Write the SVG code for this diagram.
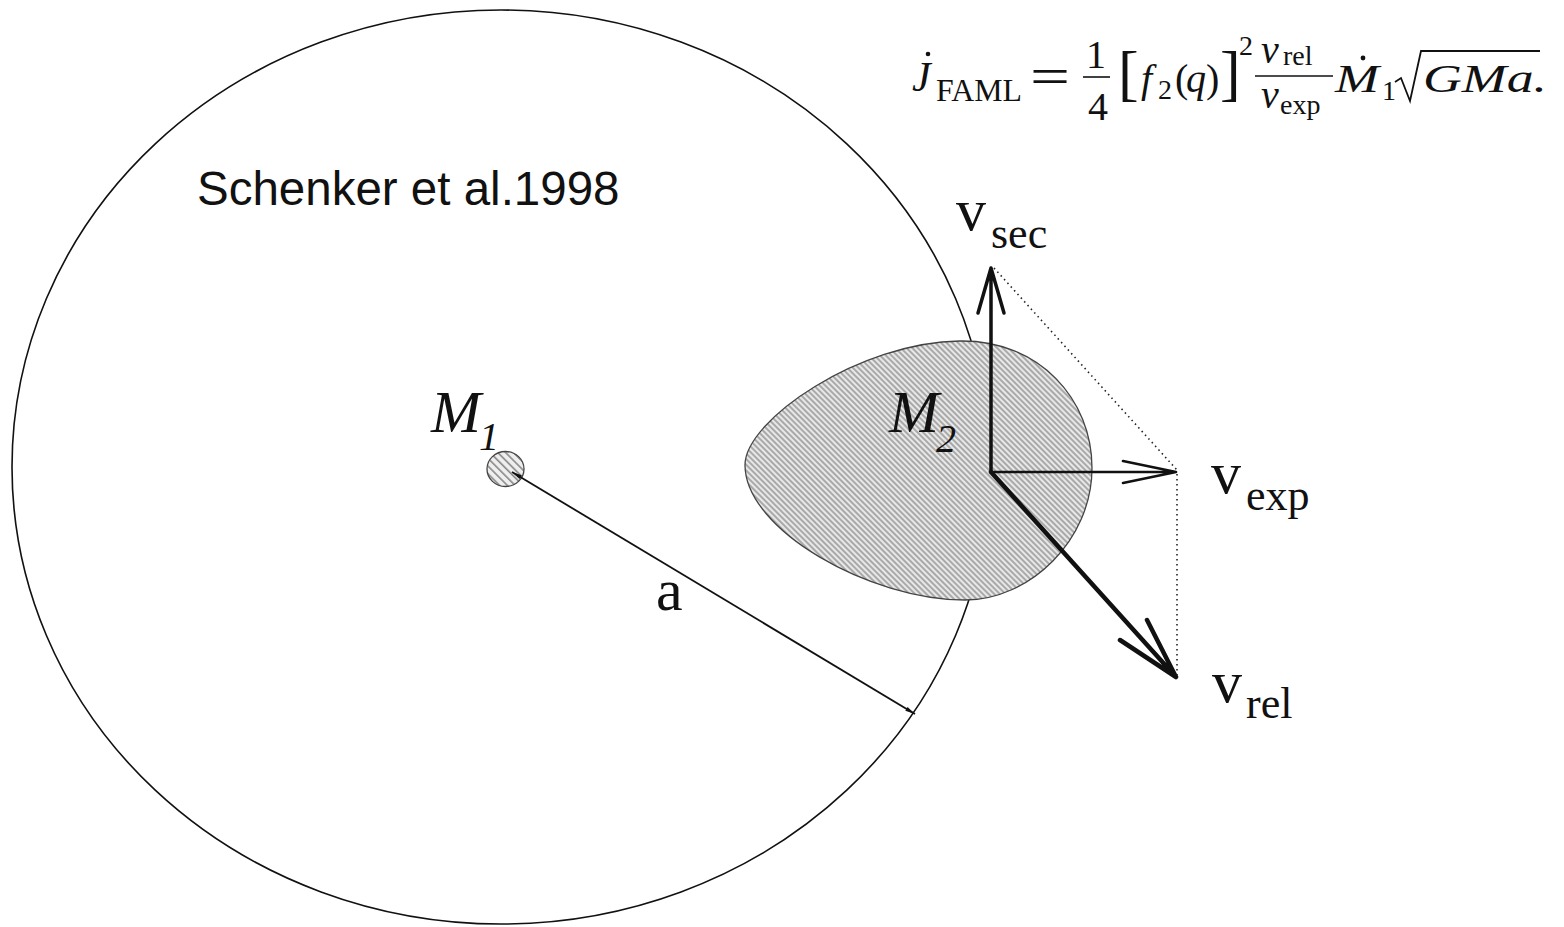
<svg xmlns="http://www.w3.org/2000/svg" width="1564" height="927" viewBox="0 0 1564 927">
<style>
.serif{font-family:"Liberation Serif","Times New Roman",serif;fill:#111}
.it{font-style:italic}
.sans{font-family:"Liberation Sans",Arial,sans-serif;fill:#111}
.vec{fill:none;stroke:#111;stroke-linecap:round;stroke-linejoin:round}
.dot{fill:none;stroke:#222;stroke-width:1.6;stroke-dasharray:1.5 3.5}
</style>
<defs>
<pattern id="hatch" width="4" height="4" patternUnits="userSpaceOnUse" patternTransform="rotate(45)">
<rect width="4" height="4" fill="#e8e8e8"/>
<line x1="0" y1="1" x2="4" y2="1" stroke="#707070" stroke-width="1.05"/>
</pattern>
<pattern id="hatch2" width="5.5" height="5.5" patternUnits="userSpaceOnUse" patternTransform="rotate(45)">
<rect width="5.5" height="5.5" fill="#eeeeee"/>
<line x1="0" y1="1" x2="5.5" y2="1" stroke="#666" stroke-width="1.2"/>
</pattern>
<marker id="ah" viewBox="0 0 10 6" refX="10" refY="3" markerWidth="10" markerHeight="6" markerUnits="userSpaceOnUse" orient="auto-start-reverse">
<path d="M0,0.8 L10,3 L0,5.2 Z" fill="#111"/>
</marker>
</defs>
<rect width="1564" height="927" fill="#fff"/>

<g id="orbit">
<ellipse cx="501" cy="467" rx="489" ry="457" fill="none" stroke="#111" stroke-width="1.6"/>
</g>

<g id="node-m2">
<path d="M745,465 C745,420 860,342 960,341 C1040,340 1092,400 1092,468 C1092,540 1030,600 965,600 C870,600 745,530 745,465 Z" fill="url(#hatch)" stroke="#444" stroke-width="1.3"/>
<text class="serif it" font-size="60"><tspan x="889" y="432">M</tspan><tspan x="936" y="452" font-size="40">2</tspan></text>
</g>

<g id="node-m1">
<ellipse cx="505.5" cy="469" rx="18.5" ry="17.5" fill="url(#hatch2)" stroke="#444" stroke-width="1.3"/>
<text class="serif it" font-size="60"><tspan x="431" y="432">M</tspan><tspan x="479" y="450" font-size="40">1</tspan></text>
</g>

<g id="connectors">
<line x1="512" y1="472" x2="915" y2="714" stroke="#111" stroke-width="1.8" marker-start="url(#ah)" marker-end="url(#ah)"/>
<line class="dot" x1="994" y1="268" x2="1177" y2="470"/>
<line class="dot" x1="1177" y1="474" x2="1177" y2="677"/>
<path class="vec" d="M991,472 L991,268 M978,313 L991,268 L1004,313" stroke-width="3.5"/>
<path class="vec" d="M991,472 L1176,472 M1123,461 L1176,472 L1123,483" stroke-width="2.6"/>
<path class="vec" d="M991,472 L1176,677 M1120,640 L1176,677 L1147,620" stroke-width="4.5"/>
</g>

<g id="labels">
<text class="sans" x="197" y="205" font-size="47.5">Schenker et al.1998</text>
<text class="serif" x="656" y="610" font-size="60">a</text>
<text class="serif" font-size="60"><tspan x="956" y="230">v</tspan><tspan x="991" y="248" font-size="44">sec</tspan></text>
<text class="serif" font-size="60"><tspan x="1211" y="493">v</tspan><tspan x="1246" y="510" font-size="44">exp</tspan></text>
<text class="serif" font-size="60"><tspan x="1212" y="702">v</tspan><tspan x="1246" y="718" font-size="44">rel</tspan></text>
</g>

<g id="formula">
<circle cx="928" cy="54" r="2.3" fill="#111"/>
<circle cx="1363" cy="58" r="2.4" fill="#111"/>
<text class="serif it" x="912" y="91" font-size="42">J</text>
<text class="serif" x="936" y="101" font-size="31" textLength="86" lengthAdjust="spacingAndGlyphs">FAML</text>
<text class="serif" x="1030" y="94" font-size="52" textLength="40" lengthAdjust="spacingAndGlyphs">=</text>
<text class="serif" x="1096" y="68" font-size="40" text-anchor="middle">1</text>
<line x1="1083" y1="77" x2="1110" y2="77" stroke="#111" stroke-width="1.6"/>
<text class="serif" x="1098" y="120" font-size="40" text-anchor="middle">4</text>
<text class="serif" font-size="40"><tspan x="1118" y="94" font-size="62">[</tspan><tspan class="it" x="1141" y="92">f</tspan><tspan x="1158" y="99" font-size="28">2</tspan><tspan x="1175" y="92">(</tspan><tspan class="it" x="1186" y="92">q</tspan><tspan x="1206" y="92">)</tspan><tspan x="1220" y="94" font-size="62">]</tspan><tspan x="1239" y="55" font-size="28">2</tspan></text>
<line x1="1255" y1="76" x2="1333" y2="76" stroke="#111" stroke-width="1.6"/>
<text class="serif" font-size="40"><tspan class="it" x="1261" y="63">v</tspan><tspan x="1283" y="65" font-size="28">rel</tspan></text>
<text class="serif" font-size="40"><tspan class="it" x="1261" y="108">v</tspan><tspan x="1280" y="114" font-size="28">exp</tspan></text>
<text class="serif it" x="1335" y="92" font-size="41" textLength="44" lengthAdjust="spacingAndGlyphs">M</text>
<text class="serif" x="1382" y="100" font-size="28">1</text>
<path d="M1395,82 L1401,78 L1410,101 L1421,51 L1540,51" fill="none" stroke="#111" stroke-width="1.8" stroke-linejoin="miter"/>
<text class="serif it" x="1423" y="92" font-size="41" textLength="124" lengthAdjust="spacingAndGlyphs">GMa.</text>
</g>
</svg>
